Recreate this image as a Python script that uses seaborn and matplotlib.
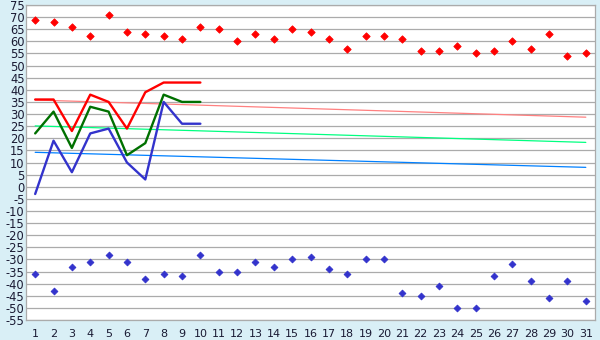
import matplotlib
matplotlib.use("Agg")
import matplotlib.pyplot as plt
import seaborn as sns
import pandas as pd
import numpy as np

days = list(range(1, 32))
line_days = list(range(1, 11))

red_points = [69, 68, 66, 62, 71, 64, 63, 62, 61, 66, 65, 60, 63, 61, 65, 64, 61, 57, 62, 62,
              61, 56, 56, 58, 55, 56, 60, 57, 63, 54, 55]
blue_points = [-36, -43, -33, -31, -28, -31, -38, -36, -37, -28, -35, -35, -31, -33, -30, -29, -34, -36, -30, -30,
               -44, -45, -41, -50, -50, -37, -32, -39, -46, -39, -47]

red_line = [36, 36, 23, 38, 35, 24, 39, 43, 43, 43]
green_line = [22, 31, 16, 33, 31, 13, 18, 38, 35, 35]
blue_line = [-3, 19, 6, 22, 24, 10, 3, 35, 26, 26]

trend_days = [1, 31]
red_trend = [35.8, 28.7]
green_trend = [25.1, 18.3]
blue_trend = [14.2, 8.0]

y_ticks = list(range(-55, 80, 5))

bg = '#d9eff6'
grid_c = '#ababab'
txt_c = '#1a1a33'

sns.set_theme(style='white')
plt.rcParams['font.family'] = ['DejaVu Sans']

fig = plt.figure(figsize=(6, 3.4), dpi=100, facecolor=bg)
ax = fig.add_axes([26/600, 20/340, 569/600, 315/340])
ax.set_facecolor('white')

# trend lines
for vals, c in [(red_trend, '#ff8080'), (green_trend, '#00ff80'), (blue_trend, '#0080ff')]:
    sns.lineplot(x=trend_days, y=vals, ax=ax, color=c, linewidth=0.9, zorder=3)

# main lines
for vals, c in [(red_line, '#ff0000'), (green_line, '#007000'), (blue_line, '#3333cc')]:
    sns.lineplot(x=line_days, y=vals, ax=ax, color=c, linewidth=1.7, zorder=4)

# scatter points
sns.scatterplot(x=days, y=red_points, ax=ax, color='#ff0000', marker='D', s=14,
                edgecolor='#ff0000', linewidth=0.6, zorder=5)
sns.scatterplot(x=days, y=blue_points, ax=ax, color='#3333cc', marker='D', s=12,
                edgecolor='#3333cc', linewidth=0.6, zorder=5)

ax.set_xlim(0.5, 31.5)
ax.set_ylim(-55, 75)
ax.set_yticks(y_ticks)
ax.set_yticklabels([str(v) for v in y_ticks])
ax.set_xticks(days)
ax.set_xticklabels([str(d) for d in days])
ax.yaxis.grid(True, color=grid_c, linewidth=0.9)
ax.xaxis.grid(False)
ax.set_axisbelow(True)
for s in ax.spines.values():
    s.set_color(grid_c)
    s.set_linewidth(0.9)
ax.tick_params(axis='x', direction='out', length=5, width=0.9, color=grid_c,
               labelsize=8, labelcolor=txt_c, pad=1.5)
ax.tick_params(axis='y', length=0, labelsize=8.3, labelcolor=txt_c, pad=1)
ax.set_xlabel('')
ax.set_ylabel('')
if ax.get_legend():
    ax.get_legend().remove()

fig.savefig('out.png', dpi=100, facecolor=bg)
